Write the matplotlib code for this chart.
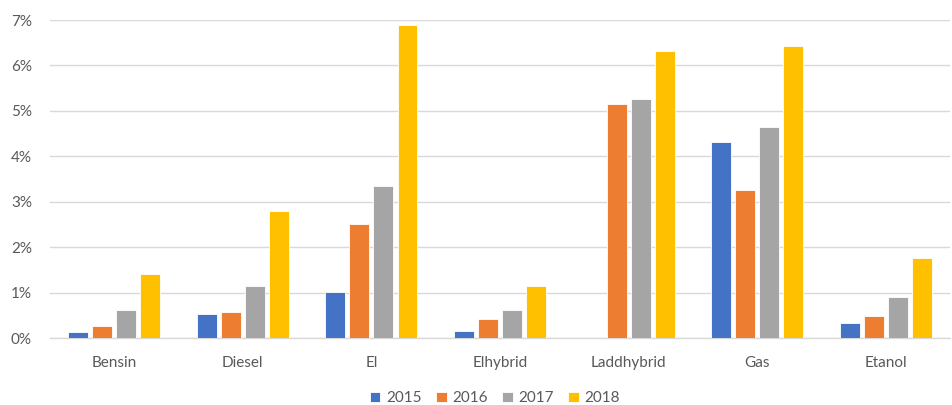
import numpy as np
import matplotlib.pyplot as plt
from matplotlib.ticker import FuncFormatter

plt.rcParams['font.family'] = ['Lato', 'DejaVu Sans']

## data: share per fuel type and year (percent)
categories = ['Bensin', 'Diesel', 'El', 'Elhybrid', 'Laddhybrid', 'Gas', 'Etanol']
years = ['2015', '2016', '2017', '2018']
share_2015 = [0.14, 0.54, 1.02, 0.16, 0.0, 4.32, 0.33]
share_2016 = [0.27, 0.57, 2.51, 0.43, 5.16, 3.27, 0.48]
share_2017 = [0.62, 1.15, 3.36, 0.62, 5.27, 4.64, 0.91]
share_2018 = [1.42, 2.80, 6.88, 1.15, 6.31, 6.42, 1.76]
series = [share_2015, share_2016, share_2017, share_2018]
colors = ['#4472C4', '#ED7D31', '#A5A5A5', '#FFC000']

text_color = '#595959'
grid_color = '#D9D9D9'

fig = plt.figure(figsize=(9.52, 4.05), dpi=100)
ax = fig.add_axes([50 / 952, 66.7 / 405, 900 / 952, 318.3 / 405])

x = np.arange(len(categories))
pitch = 0.187
width = 0.155
for i, (vals, col, yr) in enumerate(zip(series, colors, years)):
    offs = (i - 1.5) * pitch
    ax.bar(x + offs, vals, width=width, color=col, label=yr,
           edgecolor='white', linewidth=0.6, zorder=3)

ax.set_xlim(-0.5, len(categories) - 0.5)
ax.set_ylim(0, 7)
ax.set_yticks(range(8))
ax.yaxis.set_major_formatter(FuncFormatter(lambda v, _: f'{int(v)}%'))
ax.set_xticks(x)
ax.set_xticklabels(categories)

ax.grid(axis='y', color=grid_color, linewidth=1.0, zorder=0)
for s in ['top', 'right', 'left']:
    ax.spines[s].set_visible(False)
ax.spines['bottom'].set_color(grid_color)
ax.spines['bottom'].set_linewidth(1.0)
ax.tick_params(axis='both', length=0, labelsize=11, labelcolor=text_color)
ax.tick_params(axis='y', pad=13)
ax.tick_params(axis='x', pad=13)

fig.legend(loc='lower center', bbox_to_anchor=(0.52, -0.035), ncol=4,
           frameon=False, handlelength=0.7, handleheight=0.7,
           handletextpad=0.4, columnspacing=0.9,
           prop={'size': 11}, labelcolor=text_color)

fig.savefig('out.png', dpi=100)
